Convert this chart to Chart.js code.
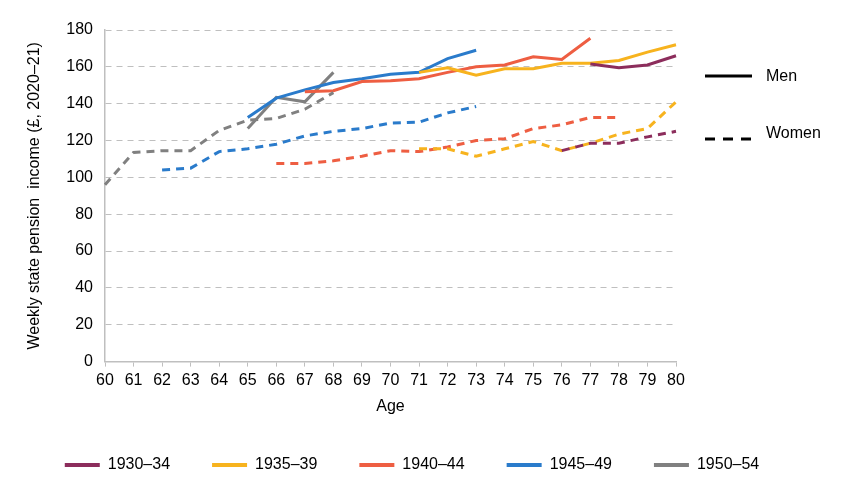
<!DOCTYPE html>
<html>
<head>
<meta charset="utf-8">
<script src="https://cdn.jsdelivr.net/npm/chart.js@4/dist/chart.umd.min.js"></script>
<style>
html,body{margin:0;padding:0;background:#fff;}
#wrap{position:relative;width:848px;height:494px;}
</style>
</head>
<body>
<div id="wrap"><canvas id="c" width="848" height="494"></canvas></div>
<script>
const ages = ['60','61','62','63','64','65','66','67','68','69','70','71','72','73','74','75','76','77','78','79','80'];
const cohorts = ['1930–34','1935–39','1940–44','1945–49','1950–54'];
const colors = ['#8C2D5C','#F7B31E','#EE5E42','#2A7BCB','#808080'];
const yTicks = [0,20,40,60,80,100,120,140,160,180];
const N = null;
//               60  61  62  63  64  65  66  67  68  69  70  71  72  73  74  75  76  77  78  79  80
const men1930 = [N,  N,  N,  N,  N,  N,  N,  N,  N,  N,  N,  N,  N,  N,  N,  N,  N,  161.5,159.5,161,166];
const men1935 = [N,  N,  N,  N,  N,  N,  N,  N,  N,  N,  N,  157,159.5,155.5,159,159,162,162,163.5,168,172];
const men1940 = [N,  N,  N,  N,  N,  N,  N,  146.5,147,152,152.5,153.5,157,160,161,165.5,164,175.5,N,N,N];
const men1945 = [N,  N,  N,  N,  N,  132.5,143,147.5,151.5,153.5,156,157,164.5,169,N,N,N,N,N,N,N];
const men1950 = [N,  N,  N,  N,  N,  126.5,143.5,141,157,N,N,N,N,N,N,N,N,N,N,N,N];
const women1930 = [N,N,  N,  N,  N,  N,  N,  N,  N,  N,  N,  N,  N,  N,  N,  N,  114.5,118.5,118.5,122,125];
const women1935 = [N,N,  N,  N,  N,  N,  N,  N,  N,  N,  N,  115.5,115.5,111.5,115.5,119.5,114.5,118.5,123.5,126.5,141];
const women1940 = [N,N,  N,  N,  N,  N,  107.5,107.5,109,111.5,114.5,114,116.5,120,121,126.5,128.5,132.5,132.5,N,N];
const women1945 = [N,N,  104,105,114,115.5,118,122.5,125,126.5,129.5,130,135,138.5,N,N,N,N,N,N,N];
const women1950 = [96,113.5,114.5,114.5,125.5,131,132,137,146,N,N,N,N,N,N,N,N,N,N,N,N];

const menData = [men1930, men1935, men1940, men1945, men1950];
const womenData = [women1930, women1935, women1940, women1945, women1950];

const FONT = '"Liberation Sans", Arial, sans-serif';
const datasets = [];
for (let i = 0; i < cohorts.length; i++) {
  datasets.push({label: cohorts[i], sex: 'women', data: womenData[i], borderColor: colors[i], backgroundColor: colors[i],
    borderWidth: 3, borderDash: [8, 6], pointRadius: 0, tension: 0, spanGaps: false, yAxisID: 'y'});
}
for (let i = 0; i < cohorts.length; i++) {
  datasets.push({label: cohorts[i], sex: 'men', data: menData[i], borderColor: colors[i], backgroundColor: colors[i],
    borderWidth: 3, pointRadius: 0, tension: 0, spanGaps: false, yAxisID: 'y'});
}

const sexLegend = {
  id: 'sexLegend',
  afterLayout(chart) {
    const lg = chart.legend;
    if (lg) {
      lg.top -= 5; lg.bottom -= 5;
      lg.left -= 12; lg.right -= 12;
    }
  },
  afterDraw(chart) {
    const ctx = chart.ctx;
    ctx.save();
    ctx.strokeStyle = '#000';
    ctx.lineWidth = 3;
    ctx.beginPath(); ctx.moveTo(705, 76); ctx.lineTo(752, 76); ctx.stroke();
    ctx.setLineDash([10, 8]);
    ctx.beginPath(); ctx.moveTo(705, 139); ctx.lineTo(752, 139); ctx.stroke();
    ctx.setLineDash([]);
    ctx.fillStyle = '#000';
    ctx.font = '16px ' + FONT;
    ctx.textBaseline = 'middle';
    ctx.textAlign = 'left';
    ctx.fillText('Men', 766, 77);
    ctx.fillText('Women', 766, 134);
    ctx.restore();
  }
};

new Chart(document.getElementById('c'), {
  type: 'line',
  data: {labels: ages, datasets: datasets},
  options: {
    responsive: false,
    animation: false,
    layout: {padding: {left: 0, right: 0, top: 30, bottom: 6}},
    plugins: {
      tooltip: {enabled: false},
      legend: {
        position: 'bottom',
        labels: {
          generateLabels: (chart) => Chart.defaults.plugins.legend.labels.generateLabels(chart)
            .map(l => Object.assign(l, {lineWidth: 0, lineDash: []})),
          filter: (item, data) => data.datasets[item.datasetIndex].sex === 'men',
          boxWidth: 35, boxHeight: 4, color: '#000',
          font: {family: FONT, size: 16}, padding: 42
        }
      }
    },
    scales: {
      x: {
        offset: false,
        grid: {display: true, drawOnChartArea: false, drawTicks: true, tickLength: 5, color: '#BFBFBF'},
        border: {display: true, color: '#BFBFBF', width: 1.5},
        ticks: {color: '#000', font: {family: FONT, size: 16}, maxRotation: 0, autoSkip: false, padding: 4},
        title: {display: true, text: 'Age', color: '#000', font: {family: FONT, size: 16}, padding: {top: 3}}
      },
      y: {
        position: 'left',
        min: 0, max: 180,
        afterBuildTicks: (s) => { s.ticks = yTicks.map(v => ({value: v})); },
        afterFit: (s) => { s.width = 105; },
        grid: {color: '#BFBFBF', lineWidth: 1, drawTicks: false},
        border: {display: true, color: '#BFBFBF', width: 1.5, dash: [6, 5]},
        ticks: {color: '#000', font: {family: FONT, size: 16}, padding: 12},
        title: {display: true, text: 'Weekly state pension  income (£, 2020–21)', color: '#000', font: {family: FONT, size: 16}, padding: {top: 25, bottom: 0}}
      },
      yR: {
        position: 'right',
        display: true,
        grid: {display: false, drawTicks: false},
        border: {display: false},
        ticks: {display: false},
        afterFit: (s) => { s.width = 172; }
      }
    }
  },
  plugins: [sexLegend]
});
</script>
</body>
</html>
